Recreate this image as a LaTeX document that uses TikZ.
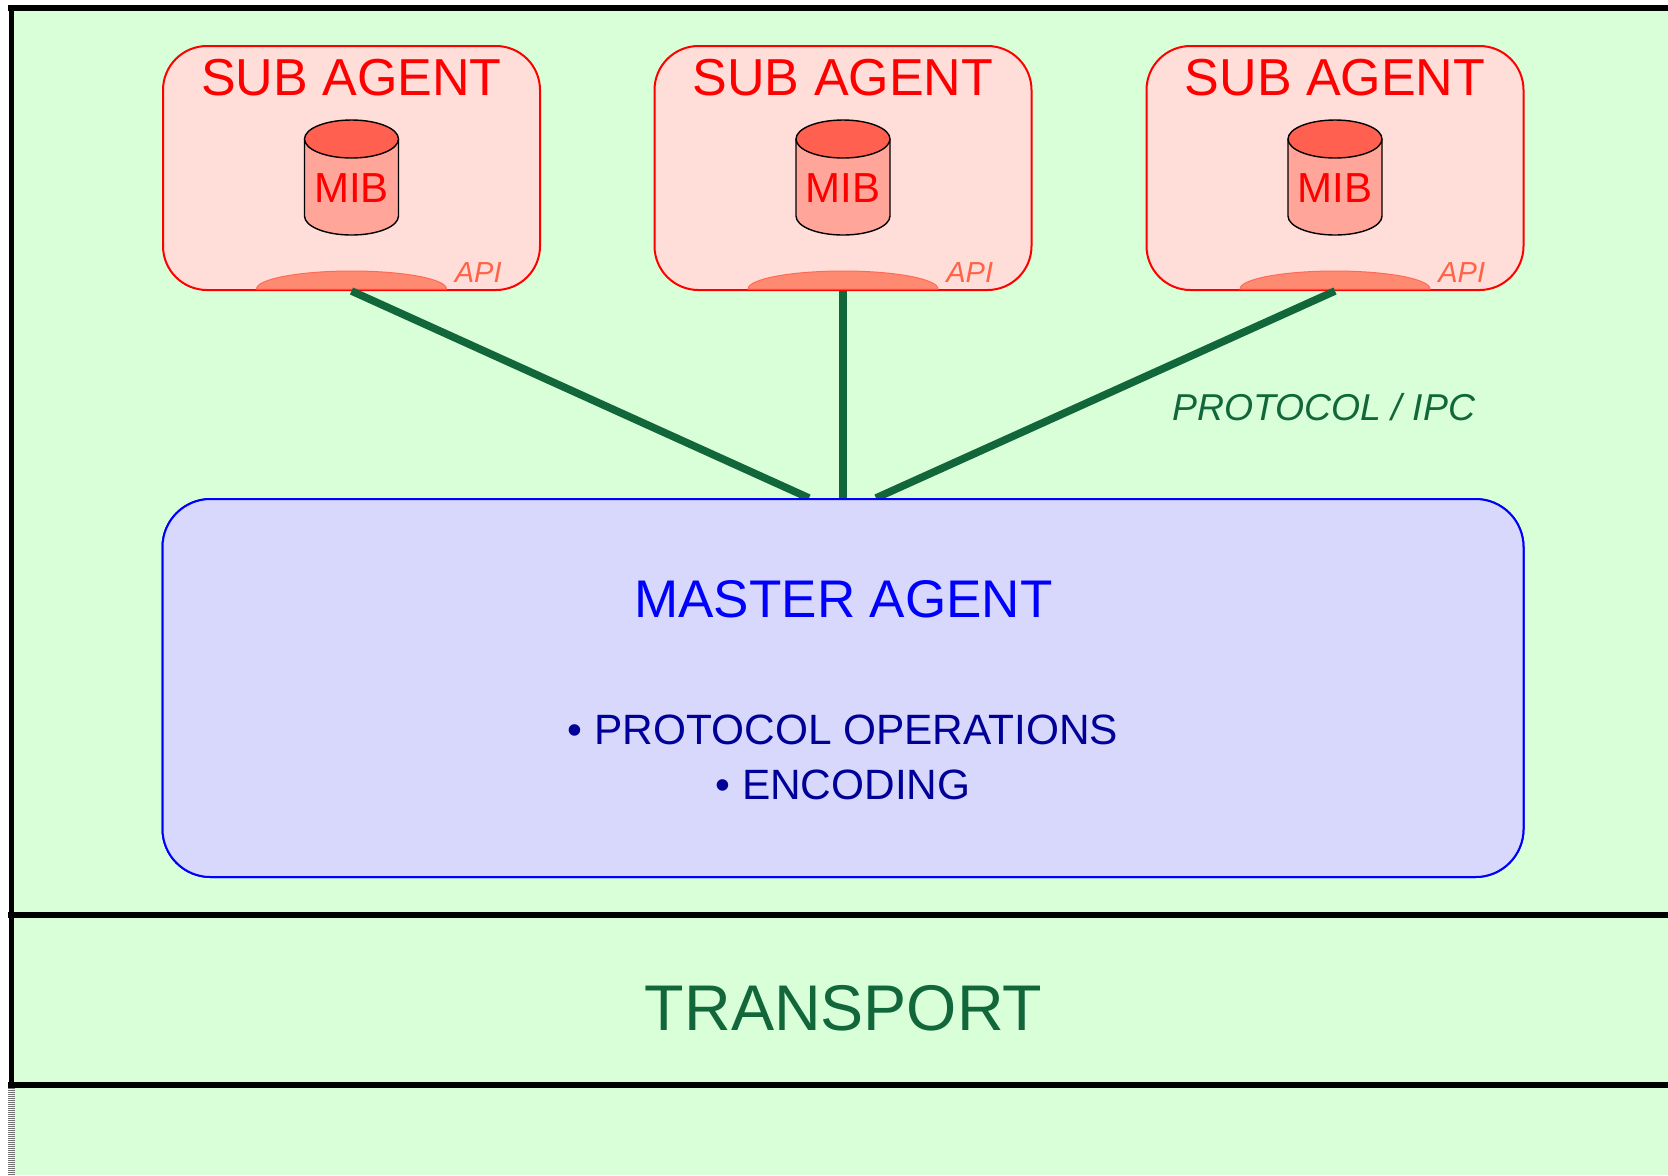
\documentclass[tikz,border=0pt]{standalone}
\usepackage{fontspec}
\setmainfont{Liberation Sans}
\usepackage{tikz}
\definecolor{bggreen}{HTML}{D9FFD9}
\definecolor{subfill}{HTML}{FFDDD8}
\definecolor{mibtop}{HTML}{FF6050}
\definecolor{mibbody}{HTML}{FFA59A}
\definecolor{apifill}{HTML}{FF8A72}
\definecolor{apiedge}{HTML}{FF6A55}
\definecolor{apitext}{HTML}{FF6347}
\definecolor{linkgreen}{HTML}{11673A}
\definecolor{masterfill}{HTML}{D8D8FC}
\definecolor{opsblue}{HTML}{000099}

\begin{document}
\begin{tikzpicture}[x=0.5pt, y=-0.5pt, inner sep=0pt,
  subbox/.style={rectangle, rounded corners=22pt, draw=red, line width=1pt, fill=subfill, minimum width=188.5pt, minimum height=122pt},
  masterbox/.style={rectangle, rounded corners=24pt, draw=blue, line width=1pt, fill=masterfill, minimum width=680.5pt, minimum height=189pt},
  layerline/.style={line width=2.8pt, black},
  link/.style={line width=3.8pt, linkgreen},
  subtitle/.style={anchor=base, text=red, font=\fontsize{26}{30}\selectfont},
  mibtext/.style={anchor=base, text=red, font=\fontsize{21}{25}\selectfont},
  apilabel/.style={anchor=base east, text=apitext, font=\fontsize{14.5}{17}\selectfont\itshape},
  mibcan/.style={draw=black, line width=0.7pt},
  bump/.style={draw=apiedge, line width=0.5pt, fill=apifill}]
\useasboundingbox (0,0) rectangle (1668,1175);
\fill[white] (0,0) rectangle (1668,1175);
\fill[bggreen] (11.5,8) rectangle (1668,1175);
\draw[layerline] (8,8) -- (1668,8);
\draw[layerline] (11.5,5) -- (11.5,1085);
\draw[layerline] (8,915) -- (1668,915);
\draw[layerline] (8,1085) -- (1668,1085);
\draw[black!55, line width=3.5pt, dash pattern=on 0.5pt off 0.5pt] (11.5,1088) -- (11.5,1175);

\node (sub1) at (351.5,168) [subbox] {};
\node (sub2) at (843,168) [subbox] {};
\node (sub3) at (1335,168) [subbox] {};

\node (title1) at (351.5,95) [subtitle] {SUB AGENT};
\node (title2) at (843,95) [subtitle] {SUB AGENT};
\node (title3) at (1335,95) [subtitle] {SUB AGENT};

\fill[mibbody] (304.5,139) -- (304.5,216) arc[start angle=180, end angle=0, x radius=47, y radius=19] -- (398.5,139) -- cycle;
\draw[mibcan] (304.5,139) -- (304.5,216) arc[start angle=180, end angle=0, x radius=47, y radius=19] -- (398.5,139);
\draw[mibcan, fill=mibtop] (351.5,139) ellipse[x radius=47, y radius=19];
\fill[mibbody] (796,139) -- (796,216) arc[start angle=180, end angle=0, x radius=47, y radius=19] -- (890,139) -- cycle;
\draw[mibcan] (796,139) -- (796,216) arc[start angle=180, end angle=0, x radius=47, y radius=19] -- (890,139);
\draw[mibcan, fill=mibtop] (843,139) ellipse[x radius=47, y radius=19];
\fill[mibbody] (1288,139) -- (1288,216) arc[start angle=180, end angle=0, x radius=47, y radius=19] -- (1382,139) -- cycle;
\draw[mibcan] (1288,139) -- (1288,216) arc[start angle=180, end angle=0, x radius=47, y radius=19] -- (1382,139);
\draw[mibcan, fill=mibtop] (1335,139) ellipse[x radius=47, y radius=19];

\node (mib1) at (351.5,202) [mibtext] {MIB};
\node (mib2) at (843,202) [mibtext] {MIB};
\node (mib3) at (1335,202) [mibtext] {MIB};

\draw[bump] (256.5,289) arc[start angle=180, end angle=360, x radius=95, y radius=18] -- cycle;
\draw[bump] (748,289) arc[start angle=180, end angle=360, x radius=95, y radius=18] -- cycle;
\draw[bump] (1240,289) arc[start angle=180, end angle=360, x radius=95, y radius=18] -- cycle;

\node (api1) at (502,282) [apilabel] {API};
\node (api2) at (993.5,282) [apilabel] {API};
\node (api3) at (1485.5,282) [apilabel] {API};

\node (master) at (843,688) [masterbox] {};
\coordinate (m1) at ([xshift=-17pt]master.north);
\coordinate (m2) at (master.north);
\coordinate (m3) at ([xshift=16.5pt]master.north);
\draw[link] (sub1.south) -- (m1);
\draw[link] (sub2.south) -- (m2);
\draw[link] (sub3.south) -- (m3);
\node (master) at (843,688) [masterbox] {};

\node (ipc) at (1172,420) [anchor=base west, text=linkgreen, font=\fontsize{18.7}{22}\selectfont\itshape] {PROTOCOL / IPC};
\node (mastertitle) at (843.5,617) [anchor=base, text=blue, font=\fontsize{26.5}{31}\selectfont] {MASTER AGENT};
\node (ops) at (843,744) [anchor=base, text=opsblue, font=\fontsize{21.2}{25}\selectfont] {• PROTOCOL OPERATIONS};
\node (enc) at (843,799) [anchor=base, text=opsblue, font=\fontsize{21.2}{25}\selectfont] {• ENCODING};
\node (transport) at (843.5,1030) [anchor=base, text=linkgreen, font=\fontsize{32.3}{38}\selectfont] {TRANSPORT};
\end{tikzpicture}
\end{document}
